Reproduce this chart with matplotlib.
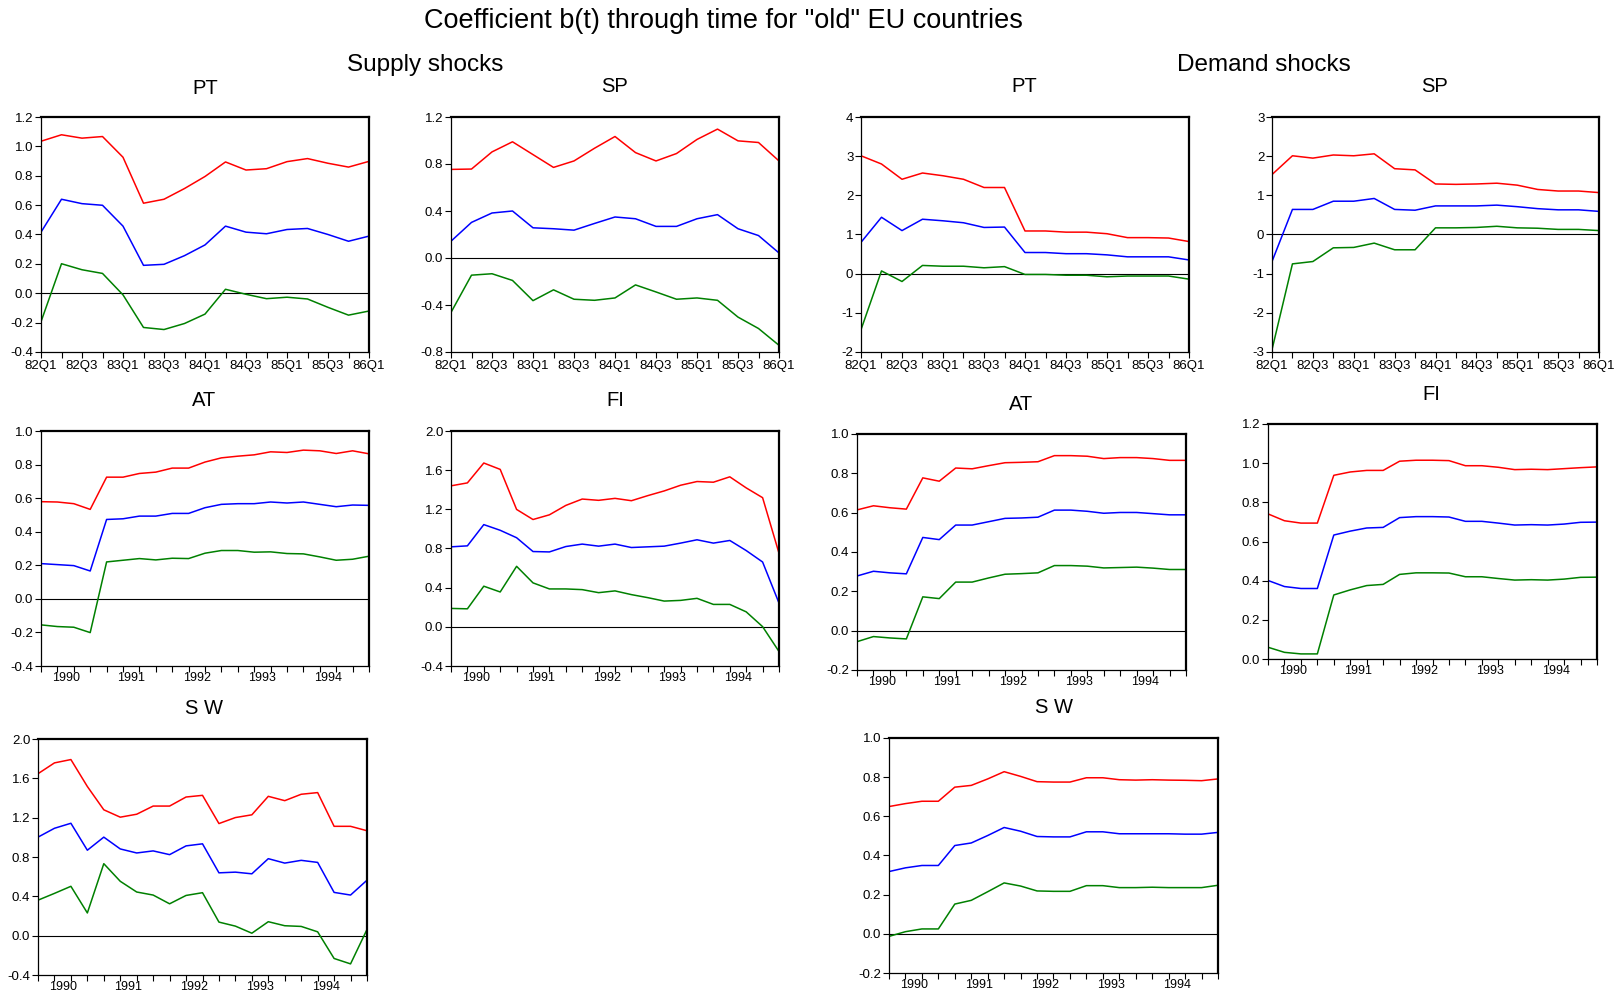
import numpy as np
import matplotlib
matplotlib.use('Agg')
import matplotlib.pyplot as plt

plt.rcParams['font.family'] = ['Liberation Sans', 'DejaVu Sans']

# quarterly sample for the 1982-1986 panels and the 1990-1995 panels
q_labels_80s = ['82Q1', '', '82Q3', '', '83Q1', '', '83Q3', '', '84Q1', '',
                '84Q3', '', '85Q1', '', '85Q3', '', '86Q1']
year_labels_90s = ['1990', '1991', '1992', '1993', '1994']

# Supply shocks
sup_pt_upper = [1.035, 1.079, 1.056, 1.067, 0.926, 0.613, 0.640, 0.713, 0.795, 0.894,
                0.839, 0.848, 0.896, 0.917, 0.885, 0.859, 0.898]
sup_pt_mid = [0.416, 0.640, 0.610, 0.599, 0.457, 0.190, 0.197, 0.256, 0.329, 0.457,
              0.416, 0.405, 0.434, 0.441, 0.400, 0.354, 0.389]
sup_pt_lower = [-0.194, 0.201, 0.160, 0.135, -0.011, -0.233, -0.247, -0.206, -0.142, 0.027,
                -0.007, -0.037, -0.027, -0.039, -0.096, -0.149, -0.121]

sup_sp_upper = [0.754, 0.757, 0.903, 0.989, 0.880, 0.771, 0.826, 0.934, 1.034, 0.897,
                0.826, 0.889, 1.009, 1.097, 0.997, 0.983, 0.826]
sup_sp_mid = [0.143, 0.303, 0.383, 0.400, 0.257, 0.249, 0.237, 0.294, 0.349, 0.334,
              0.269, 0.269, 0.334, 0.369, 0.249, 0.191, 0.043]
sup_sp_lower = [-0.463, -0.146, -0.134, -0.191, -0.363, -0.271, -0.351, -0.360, -0.340, -0.229,
                -0.289, -0.351, -0.340, -0.360, -0.503, -0.600, -0.743]

sup_at_upper = [0.579, 0.577, 0.567, 0.533, 0.725, 0.725, 0.747, 0.755, 0.779, 0.779, 0.815,
                0.840, 0.850, 0.858, 0.876, 0.872, 0.886, 0.882, 0.866, 0.882, 0.864]
sup_at_mid = [0.210, 0.204, 0.198, 0.166, 0.473, 0.477, 0.493, 0.493, 0.509, 0.509, 0.543,
              0.563, 0.567, 0.567, 0.577, 0.571, 0.577, 0.563, 0.549, 0.559, 0.557]
sup_at_lower = [-0.155, -0.165, -0.169, -0.201, 0.220, 0.230, 0.240, 0.232, 0.242, 0.240, 0.272,
                0.288, 0.288, 0.278, 0.280, 0.270, 0.268, 0.250, 0.230, 0.236, 0.254]

sup_fi_upper = [1.440, 1.470, 1.673, 1.608, 1.199, 1.096, 1.144, 1.240, 1.305, 1.292, 1.312,
                1.288, 1.340, 1.388, 1.446, 1.484, 1.477, 1.532, 1.419, 1.319, 0.752]
sup_fi_mid = [0.817, 0.827, 1.044, 0.986, 0.910, 0.769, 0.765, 0.820, 0.845, 0.824, 0.845,
              0.810, 0.817, 0.824, 0.855, 0.889, 0.855, 0.882, 0.779, 0.662, 0.243]
sup_fi_lower = [0.188, 0.184, 0.415, 0.356, 0.618, 0.449, 0.387, 0.387, 0.380, 0.349, 0.367,
                0.329, 0.298, 0.263, 0.270, 0.291, 0.229, 0.229, 0.153, 0.002, -0.252]

sup_sw_upper = [1.647, 1.757, 1.791, 1.517, 1.280, 1.205, 1.235, 1.318, 1.318, 1.410, 1.427,
                1.140, 1.201, 1.229, 1.417, 1.373, 1.438, 1.455, 1.112, 1.112, 1.067]
sup_sw_mid = [1.002, 1.092, 1.143, 0.869, 1.002, 0.882, 0.841, 0.862, 0.824, 0.913, 0.934,
              0.639, 0.646, 0.629, 0.783, 0.738, 0.766, 0.745, 0.440, 0.413, 0.564]
sup_sw_lower = [0.361, 0.430, 0.502, 0.231, 0.732, 0.553, 0.444, 0.413, 0.324, 0.409, 0.437,
                0.138, 0.097, 0.025, 0.142, 0.101, 0.094, 0.039, -0.232, -0.287, 0.063]

# Demand shocks
dem_pt_upper = [3.01, 2.80, 2.41, 2.57, 2.50, 2.41, 2.20, 2.20, 1.09, 1.09,
                1.06, 1.06, 1.02, 0.92, 0.92, 0.91, 0.82]
dem_pt_mid = [0.80, 1.44, 1.10, 1.39, 1.35, 1.30, 1.18, 1.19, 0.54, 0.54,
              0.51, 0.51, 0.48, 0.43, 0.43, 0.43, 0.35]
dem_pt_lower = [-1.43, 0.07, -0.20, 0.21, 0.19, 0.19, 0.15, 0.18, -0.02, -0.02,
                -0.04, -0.04, -0.08, -0.06, -0.06, -0.06, -0.14]

dem_sp_upper = [1.53, 2.01, 1.95, 2.03, 2.01, 2.06, 1.68, 1.65, 1.29, 1.28,
                1.29, 1.31, 1.26, 1.15, 1.11, 1.11, 1.07]
dem_sp_mid = [-0.69, 0.64, 0.64, 0.85, 0.85, 0.92, 0.64, 0.62, 0.73, 0.73,
              0.73, 0.75, 0.71, 0.66, 0.63, 0.63, 0.59]
dem_sp_lower = [-2.94, -0.75, -0.69, -0.34, -0.33, -0.22, -0.39, -0.39, 0.17, 0.17,
                0.18, 0.21, 0.17, 0.16, 0.13, 0.13, 0.10]

dem_at_upper = [0.614, 0.635, 0.625, 0.618, 0.777, 0.760, 0.827, 0.823, 0.839, 0.854, 0.856,
                0.859, 0.890, 0.890, 0.887, 0.875, 0.880, 0.880, 0.875, 0.866, 0.866]
dem_at_mid = [0.278, 0.302, 0.294, 0.289, 0.474, 0.463, 0.537, 0.537, 0.554, 0.571, 0.573,
              0.577, 0.613, 0.613, 0.607, 0.597, 0.601, 0.601, 0.595, 0.589, 0.589]
dem_at_lower = [-0.056, -0.030, -0.037, -0.042, 0.172, 0.163, 0.247, 0.247, 0.268, 0.287, 0.290,
                0.294, 0.331, 0.331, 0.328, 0.319, 0.321, 0.323, 0.318, 0.311, 0.311]

dem_fi_upper = [0.741, 0.706, 0.694, 0.694, 0.938, 0.955, 0.963, 0.963, 1.010, 1.015, 1.015,
                1.013, 0.987, 0.987, 0.979, 0.967, 0.969, 0.967, 0.972, 0.977, 0.981]
dem_fi_mid = [0.401, 0.370, 0.360, 0.360, 0.633, 0.653, 0.669, 0.672, 0.722, 0.727, 0.727,
              0.725, 0.703, 0.703, 0.694, 0.684, 0.686, 0.684, 0.689, 0.698, 0.699]
dem_fi_lower = [0.060, 0.034, 0.026, 0.026, 0.327, 0.353, 0.375, 0.381, 0.432, 0.440, 0.440,
                0.439, 0.420, 0.420, 0.411, 0.403, 0.405, 0.403, 0.408, 0.417, 0.418]

dem_sw_upper = [0.650, 0.665, 0.677, 0.677, 0.749, 0.758, 0.791, 0.828, 0.804, 0.777, 0.775,
                0.775, 0.797, 0.797, 0.787, 0.785, 0.787, 0.785, 0.784, 0.782, 0.791]
dem_sw_mid = [0.318, 0.337, 0.349, 0.349, 0.451, 0.464, 0.502, 0.543, 0.524, 0.497, 0.495,
              0.495, 0.521, 0.521, 0.511, 0.511, 0.511, 0.511, 0.509, 0.509, 0.518]
dem_sw_lower = [-0.013, 0.011, 0.025, 0.025, 0.152, 0.171, 0.215, 0.260, 0.244, 0.219, 0.217,
                0.217, 0.246, 0.246, 0.236, 0.236, 0.238, 0.236, 0.236, 0.236, 0.248]

W, H = 1620, 997
fig = plt.figure(figsize=(W / 100, H / 100), dpi=100)


def make_axes(x0, y0, x1, y1):
    return fig.add_axes([x0 / W, 1 - y1 / H, (x1 - x0) / W, (y1 - y0) / H])


def draw_panel(box, title, title_xy, upper, mid, lower, yticks, period):
    ax = make_axes(*box)
    x = np.arange(len(upper))
    ax.plot(x, upper, color='red', lw=1.1)
    ax.plot(x, mid, color='blue', lw=1.1)
    ax.plot(x, lower, color='green', lw=1.1)
    ax.axhline(0, color='black', lw=0.8, zorder=0)
    ax.set_xlim(0, len(upper) - 1)
    ax.set_ylim(yticks[0], yticks[-1])
    ax.set_yticks(yticks)
    if all(float(t).is_integer() for t in yticks) and (yticks[1] - yticks[0]) >= 1:
        ax.set_yticklabels([f'{t:.0f}' for t in yticks])
    else:
        ax.set_yticklabels([f'{t:.1f}' for t in yticks])
    ax.set_xticks(x)
    if period == '80s':
        ax.set_xticklabels(q_labels_80s)
    else:
        ax.set_xticklabels([''] * len(x))
        ax.set_xticks([1.5, 5.5, 9.5, 13.5, 17.5], minor=True)
        ax.set_xticklabels(year_labels_90s, minor=True)
        ax.tick_params(axis='x', which='minor', length=0, pad=4, labelsize=9)
    ax.tick_params(axis='both', which='major', direction='out', length=4, width=0.8,
                   labelsize=9.5, pad=1.5, colors='black')
    ax.spines['left'].set_linewidth(0.9)
    ax.spines['bottom'].set_linewidth(0.9)
    ax.spines['top'].set_linewidth(1.6)
    ax.spines['right'].set_linewidth(1.6)
    fig.text(title_xy[0] / W, 1 - title_xy[1] / H, title, ha='center', va='center',
             fontsize=14.5)
    return ax


ticks_a = [-0.4, -0.2, 0.0, 0.2, 0.4, 0.6, 0.8, 1.0, 1.2]
ticks_b = [-0.8, -0.4, 0.0, 0.4, 0.8, 1.2]
ticks_c = [-2, -1, 0, 1, 2, 3, 4]
ticks_d = [-3, -2, -1, 0, 1, 2, 3]
ticks_e = [-0.4, -0.2, 0.0, 0.2, 0.4, 0.6, 0.8, 1.0]
ticks_f = [-0.4, 0.0, 0.4, 0.8, 1.2, 1.6, 2.0]
ticks_g = [-0.2, 0.0, 0.2, 0.4, 0.6, 0.8, 1.0]
ticks_h = [0.0, 0.2, 0.4, 0.6, 0.8, 1.0, 1.2]

draw_panel((41, 117, 369, 352), 'PT', (205, 88), sup_pt_upper, sup_pt_mid, sup_pt_lower, ticks_a, '80s')
draw_panel((451, 117, 779, 352), 'SP', (615, 87), sup_sp_upper, sup_sp_mid, sup_sp_lower, ticks_b, '80s')
draw_panel((861, 117, 1189, 352), 'PT', (1024, 87), dem_pt_upper, dem_pt_mid, dem_pt_lower, ticks_c, '80s')
draw_panel((1272, 117, 1599, 352), 'SP', (1435, 87), dem_sp_upper, dem_sp_mid, dem_sp_lower, ticks_d, '80s')

draw_panel((41, 431, 369, 666), 'AT', (204, 400), sup_at_upper, sup_at_mid, sup_at_lower, ticks_e, '90s')
draw_panel((451, 431, 779, 666), 'FI', (615, 400), sup_fi_upper, sup_fi_mid, sup_fi_lower, ticks_f, '90s')
draw_panel((857, 434, 1186, 670), 'AT', (1021, 404), dem_at_upper, dem_at_mid, dem_at_lower, ticks_g, '90s')
draw_panel((1268, 424, 1597, 659), 'FI', (1431, 394), dem_fi_upper, dem_fi_mid, dem_fi_lower, ticks_h, '90s')

draw_panel((38, 739, 367, 975), 'S W', (204, 709), sup_sw_upper, sup_sw_mid, sup_sw_lower, ticks_f, '90s')
draw_panel((889, 738, 1218, 973), 'S W', (1054, 707), dem_sw_upper, dem_sw_mid, dem_sw_lower, ticks_g, '90s')

fig.text(723 / W, 1 - 21 / H, 'Coefficient b(t) through time for "old" EU countries',
         ha='center', va='center', fontsize=19.5)
fig.text(425 / W, 1 - 65 / H, 'Supply shocks', ha='center', va='center', fontsize=17.5)
fig.text(1264 / W, 1 - 65 / H, 'Demand shocks', ha='center', va='center', fontsize=17.5)

fig.savefig('out.png', dpi=100)
